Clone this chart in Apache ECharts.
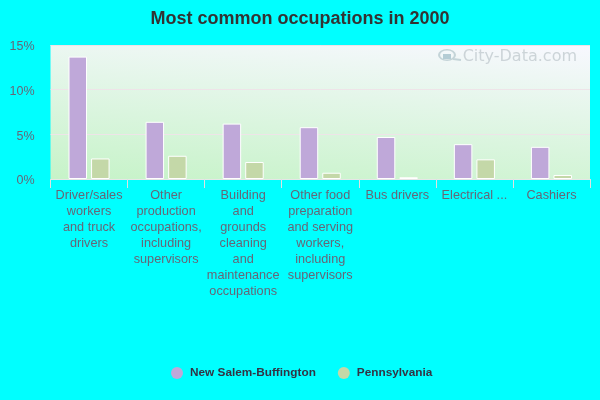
<!DOCTYPE html>
<html>
<head>
<meta charset="utf-8">
<style>html,body{margin:0;padding:0;background:#00ffff}#c{width:600px;height:400px}</style>
<script src="https://cdn.jsdelivr.net/npm/echarts@6/dist/echarts.min.js"></script>
</head>
<body>
<div id="c"></div>
<script>
const titleText = 'Most common occupations in 2000';
const categories = [
  'Driver/sales\nworkers\nand truck\ndrivers',
  'Other\nproduction\noccupations,\nincluding\nsupervisors',
  'Building\nand\ngrounds\ncleaning\nand\nmaintenance\noccupations',
  'Other food\npreparation\nand serving\nworkers,\nincluding\nsupervisors',
  'Bus drivers',
  'Electrical ...',
  'Cashiers'
];
const seriesNames = ['New Salem-Buffington', 'Pennsylvania'];
const localValues = [13.7, 6.4, 6.2, 5.8, 4.7, 3.9, 3.6];
const stateValues = [2.3, 2.6, 1.9, 0.7, 0.2, 2.2, 0.45];
const colors = ['#bfa8d9', '#c4d8a8'];

const chart = echarts.init(document.getElementById('c'), null, {renderer: 'canvas'});
const font = '"Liberation Sans", Arial, sans-serif';
const barStyle = c => ({color: c, borderColor: '#ffffff', borderWidth: 1});
chart.setOption({
  animation: false,
  backgroundColor: '#00ffff',
  title: {
    text: titleText, left: 'center', top: 5,
    textStyle: {fontFamily: font, fontSize: 18, fontWeight: 'bold', color: '#333333'}
  },
  legend: {
    data: seriesNames, bottom: 16, left: 166, icon: 'circle', itemWidth: 12, itemHeight: 12, itemGap: 22,
    itemStyle: {borderWidth: 0},
    textStyle: {fontFamily: font, fontSize: 11.8, fontWeight: 'bold', color: '#333344', padding: [0, 0, 0, 2]}
  },
  grid: {
    left: 50.5, right: 10, top: 45, bottom: 221, show: true, borderWidth: 0,
    backgroundColor: new echarts.graphic.LinearGradient(0, 1, 0.027, -0.32, [
      {offset: 0, color: '#c6f3c8'},
      {offset: 1, color: '#f8f8ff'}
    ])
  },
  xAxis: {
    type: 'category', data: categories,
    axisLine: {lineStyle: {color: '#e6e6e6', width: 1}},
    axisTick: {show: true, length: 9, alignWithLabel: false, lineStyle: {color: '#e0e0e0'}},
    axisLabel: {interval: 0, margin: 8, lineHeight: 16, fontFamily: font, fontSize: 12.7, color: '#666677'}
  },
  yAxis: {
    type: 'value', min: 0, max: 15, interval: 5,
    axisLine: {show: false}, axisTick: {show: false},
    axisLabel: {
      formatter: '{a|{value}%}', margin: 16,
      rich: {a: {padding: [4, 0, 0, 0], fontFamily: font, fontSize: 12.5, color: '#666677'}}
    },
    splitLine: {lineStyle: {color: '#eee4e8', width: 1}}
  },
  graphic: [{
    type: 'text', right: 23, top: 49, silent: true,
    style: {text: 'City-Data.com', fontFamily: '"DejaVu Sans", sans-serif', fontSize: 16, fill: '#ccd4d8'}
  }, {
    type: 'ring', silent: true, originX: 447, originY: 55, scaleX: 1.5,
    shape: {cx: 447, cy: 55, r: 6, r0: 4.6},
    style: {fill: '#c4d4d8'}
  }, {
    type: 'rect', silent: true,
    shape: {x: 443, y: 54, width: 8, height: 5},
    style: {fill: '#b4ccd4'}
  }, {
    type: 'line', silent: true,
    shape: {x1: 453, y1: 59, x2: 461, y2: 60},
    style: {stroke: '#c4d4d8', lineWidth: 2}
  }],
  series: [
    {name: seriesNames[0], type: 'bar', data: localValues, barWidth: 18.5, barGap: '22%', itemStyle: barStyle(colors[0])},
    {name: seriesNames[1], type: 'bar', data: stateValues, barWidth: 18.5, itemStyle: barStyle(colors[1])}
  ]
});
</script>
</body>
</html>
